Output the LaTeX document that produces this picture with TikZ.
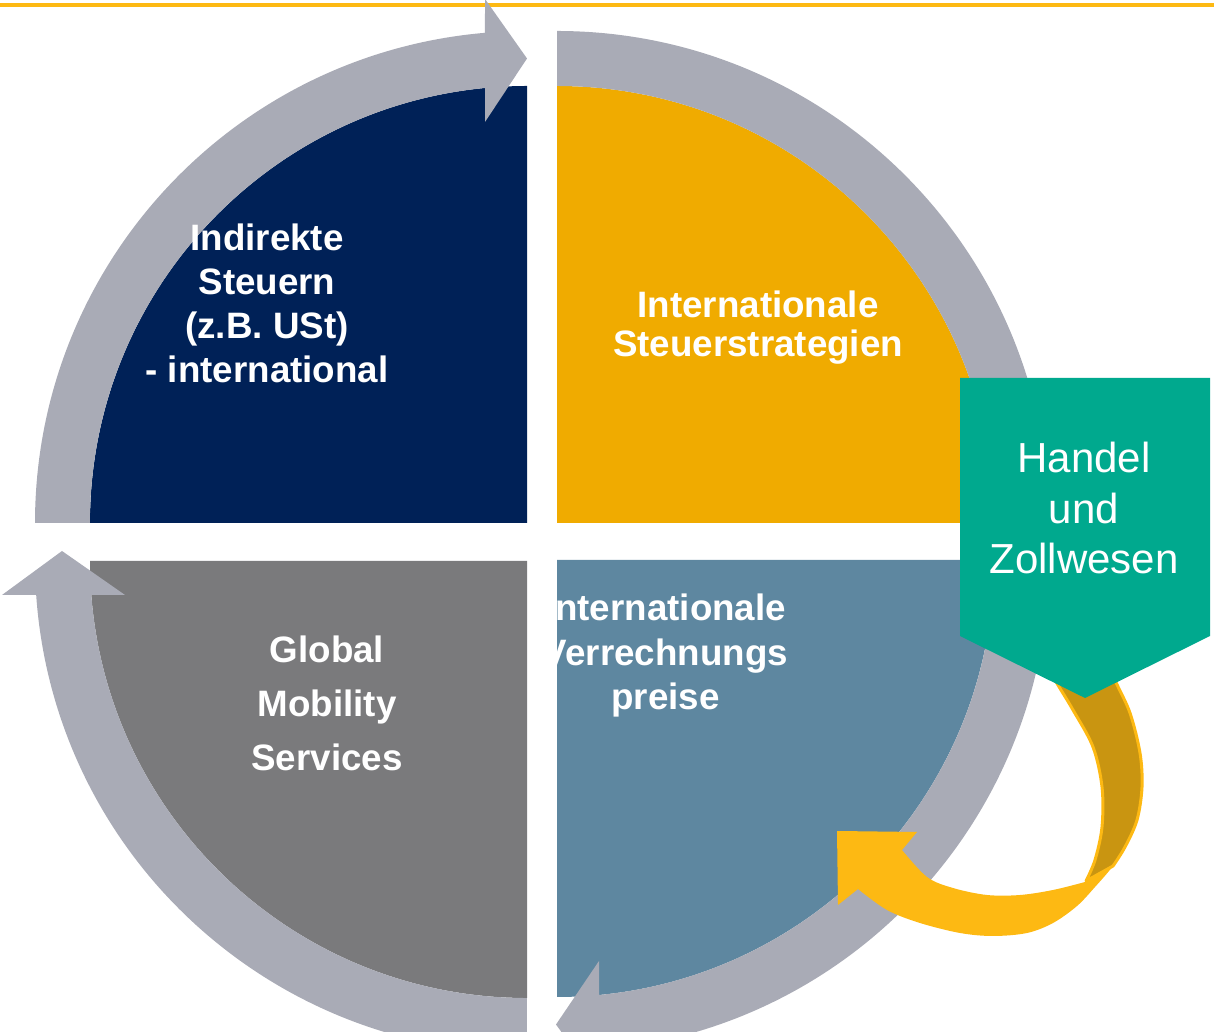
\documentclass[tikz,border=0pt]{standalone}
\usepackage{fontspec}
\setmainfont{Liberation Sans}
\definecolor{navy}{RGB}{0,33,87}
\definecolor{orng}{RGB}{240,171,0}
\definecolor{steel}{RGB}{94,135,160}
\definecolor{qgray}{RGB}{122,122,124}
\definecolor{rgray}{RGB}{169,171,182}
\definecolor{grn}{RGB}{0,169,142}
\definecolor{ylw}{RGB}{253,185,19}
\definecolor{dylw}{RGB}{201,149,17}
\begin{document}
\frenchspacing
\begin{tikzpicture}[x=1pt,y=1pt,
  lbl/.style={text=white, align=center, inner sep=0pt},
  ringarc/.style={fill=rgray}]
\useasboundingbox (0,0) rectangle (1214,1032);
\clip (0,0) rectangle (1214,1032);
% top rule
\fill[ylw] (0,1025) rectangle (1214,1028.5);
% quadrants
\fill[navy] (527,509) -- (90,509) arc[start angle=180,end angle=90,radius=437pt] -- cycle;
\fill[orng] (557,509) -- (557,946) arc[start angle=90,end angle=0,radius=437pt] -- cycle;
\fill[steel] (557,472) -- (994,472) arc[start angle=0,end angle=-90,radius=437pt] -- cycle;
\fill[qgray] (527,471) -- (527,34) arc[start angle=270,end angle=180,radius=437pt] -- cycle;
% ring arrows
\fill[ringarc] (35,509) arc[start angle=180,end angle=94.9,radius=492pt] -- (485,1033) -- (527,973.5) -- (485,910) -- (485,944) arc[start angle=95.5,end angle=180,radius=437pt] -- cycle;
\fill[ringarc] (557,1001) arc[start angle=90,end angle=0,radius=492pt] -- (1049,472) arc[start angle=0,end angle=-85.1,radius=492pt] -- (599,-52) -- (556,7.5) -- (599,71) -- (599,37) arc[start angle=-84.5,end angle=0,radius=437pt] -- (994,509) arc[start angle=0,end angle=90,radius=437pt] -- cycle;
\fill[ringarc] (527,-21) arc[start angle=270,end angle=183.96,radius=492pt] -- (2,437) -- (62,481) -- (125,437) -- (91.3,437) arc[start angle=184.46,end angle=270,radius=437pt] -- cycle;
% yellow ribbon arrow
\fill[ylw] (1105,380) -- plot[smooth,tension=0.55] coordinates {(1105,380) (1115,352) (1130,319) (1140,279) (1142,245) (1137,212) (1125,185) (1113,166) (1095,145) (1077,126) (1053,109) (1027,99) (993,96) (960,99) (920,109) (887,122) (858,143)} -- (838,127) -- (837,201) -- (917,200) -- (902,182) -- plot[smooth,tension=0.55] coordinates {(902,182) (927,155) (953,144) (987,137) (1020,137) (1053,142) (1085,150)} -- plot[smooth,tension=0.55] coordinates {(1085,150) (1095,172) (1102,205) (1102,245) (1093,285) (1073,322) (1055,352) (1040,380)} -- cycle;
\filldraw[fill=dylw, draw=ylw, line width=3pt, line join=round] (1040,380) -- plot[smooth,tension=0.55] coordinates {(1040,380) (1055,352) (1073,322) (1093,285) (1102,245) (1102,205) (1095,172) (1086,151)} -- plot[smooth,tension=0.55] coordinates {(1113,166) (1125,185) (1137,212) (1142,245) (1140,279) (1130,319) (1115,352) (1105,380)} -- cycle;
% green callout
\fill[grn] (960,654) -- (1210,654) -- (1210,396) -- (1085,334) -- (960,396) -- cycle;
% texts
\node[lbl, font={\bfseries\fontsize{36.75pt}{44pt}\selectfont}] (ind) at (267,728.4) {Indirekte\\Steuern\\(z.B. USt)\\- international};
\node[lbl, font={\bfseries\fontsize{36.75pt}{39pt}\selectfont}] (iss) at (758,704) {Internationale\\Steuerstrategien};
\node[lbl, font={\bfseries\fontsize{36.75pt}{54pt}\selectfont}] (gms) at (327,328.4) {Global\\Mobility\\Services};
\node[lbl, font={\bfseries\fontsize{36.75pt}{44.5pt}\selectfont}] (ivp) at (665.5,376) {Internationale\\Verrechnungs\\preise};
\node[lbl, font={\fontsize{42pt}{50.5pt}\selectfont}] (zoll) at (1084,523.8) {Handel\\und\\Zollwesen};
\end{tikzpicture}
\end{document}
